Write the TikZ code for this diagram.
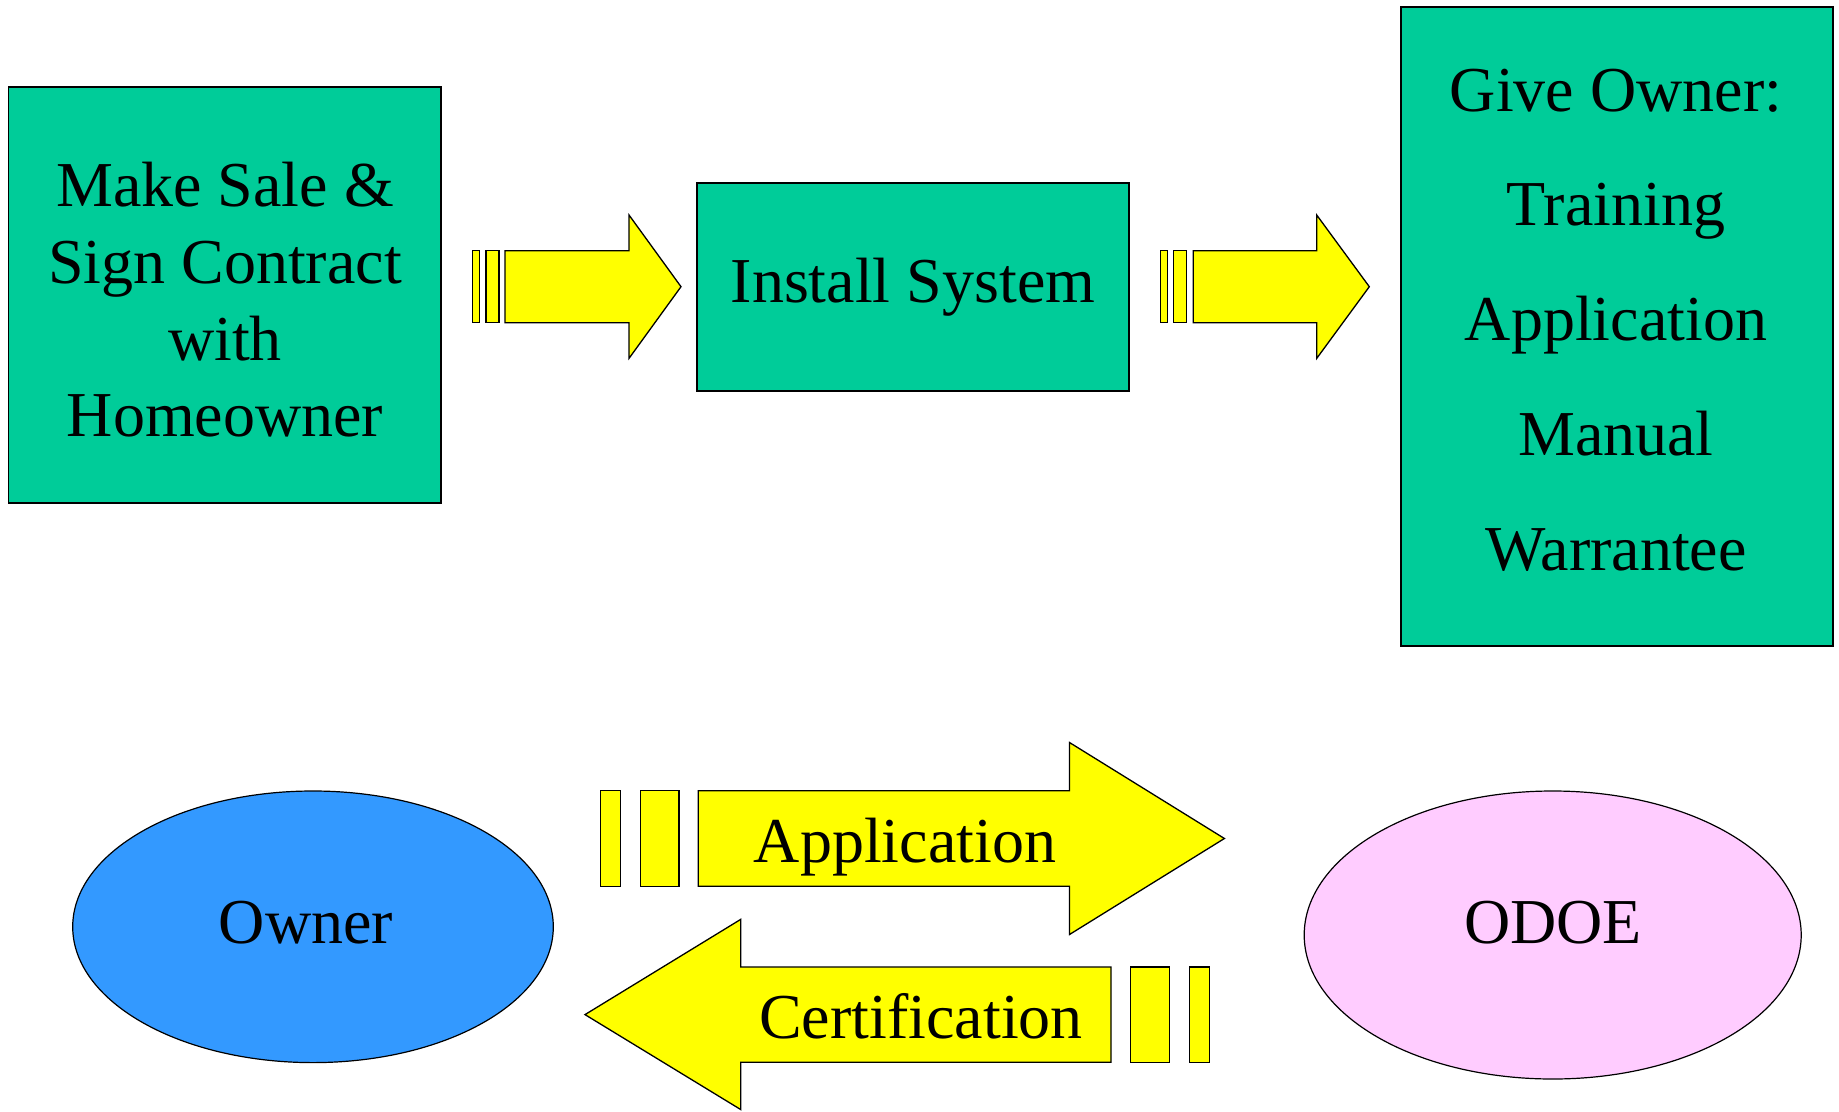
\documentclass[tikz,border=0pt]{standalone}
\usepackage{fontspec}
\setmainfont{Liberation Serif}
\usetikzlibrary{shapes.geometric}
\definecolor{boxgreen}{HTML}{00CC99}
\definecolor{ownerblue}{HTML}{3399FF}
\definecolor{odoepink}{HTML}{FFCCFF}
\definecolor{arrowyellow}{HTML}{FFFF00}
\begin{document}
\begin{tikzpicture}[x=1pt,y=-1pt,
  greenbox/.style={draw=black,line width=1.8pt,fill=boxgreen,rectangle,inner sep=0pt},
  oval/.style={draw=black,line width=1.2pt,ellipse,inner sep=0pt},
  blockarrow/.style={draw=black,line width=1.3pt,fill=arrowyellow,line join=miter},
  txt/.style={anchor=base,inner sep=0pt,font=\fontsize{64}{76.7}\selectfont}]
\useasboundingbox[fill=white] (0,0) rectangle (1839,1111);

% boxes
\node[greenbox,minimum width=432.6pt,minimum height=416pt] (sale) at (224.7,295) {};
\node[greenbox,minimum width=432.6pt,minimum height=208pt] (install) at (913,286.7) {};
\node[greenbox,minimum width=432.6pt,minimum height=639.3pt] (give) at (1617,326.4) {};

% ellipses
\node[oval,fill=ownerblue,minimum width=480.6pt,minimum height=271.6pt] (owner) at (313,926.8) {};
\node[oval,fill=odoepink,minimum width=497pt,minimum height=288pt] (odoe) at (1552.7,935) {};

% arrow 1
\draw[blockarrow] (472.7,250.7) rectangle (479.3,322.7);
\draw[blockarrow] (486,250.7) rectangle (499,322.7);
\draw[blockarrow] (505,250.7) -- (629,250.7) -- (629,215) -- (681,286.7) -- (629,358.4) -- (629,322.7) -- (505,322.7) -- cycle;

% arrow 2
\draw[blockarrow] (1160.7,250.7) rectangle (1167.7,322.7);
\draw[blockarrow] (1173.3,250.7) rectangle (1186.7,322.7);
\draw[blockarrow] (1193.3,250.7) -- (1316.7,250.7) -- (1316.7,215) -- (1369.3,286.7) -- (1316.7,358.4) -- (1316.7,322.7) -- (1193.3,322.7) -- cycle;

% application arrow
\draw[blockarrow] (600.5,790.7) rectangle (620.4,886.3);
\draw[blockarrow] (640.3,790.7) rectangle (679,886.3);
\draw[blockarrow] (698.3,790.7) -- (1069.5,790.7) -- (1069.5,742.5) -- (1224.4,838.5) -- (1069.5,934.5) -- (1069.5,886.3) -- (698.3,886.3) -- cycle;

% certification arrow
\draw[blockarrow] (1189.4,967) rectangle (1209.2,1062.3);
\draw[blockarrow] (1130.5,967) rectangle (1169.2,1062.3);
\draw[blockarrow] (1111,967) -- (740.8,967) -- (740.8,919.3) -- (585,1014.6) -- (740.8,1109.6) -- (740.8,1062.3) -- (1111,1062.3) -- cycle;

% texts
\node[txt] (t1a) at (225,206.7) {Make Sale \&};
\node[txt] (t1b) at (225,283.3) {Sign Contract};
\node[txt] (t1c) at (225,360) {with};
\node[txt] (t1d) at (225,436.7) {Homeowner};

\node[txt] (t2) at (913,302.7) {Install System};

\node[txt] (t3a) at (1616,111.5) {Give Owner:};
\node[txt] (t3b) at (1616,225.2) {Training};
\node[txt] (t3c) at (1616,340) {Application};
\node[txt] (t3d) at (1616,455.4) {Manual};
\node[txt] (t3e) at (1616,570.3) {Warrantee};

\node[txt] (tapp) at (905,862.7) {Application};
\node[txt] (tcert) at (921,1038.3) {Certification};
\node[txt] (towner) at (306,943.3) {Owner};
\node[txt] (todoe) at (1553,943.3) {ODOE};
\end{tikzpicture}
\end{document}
